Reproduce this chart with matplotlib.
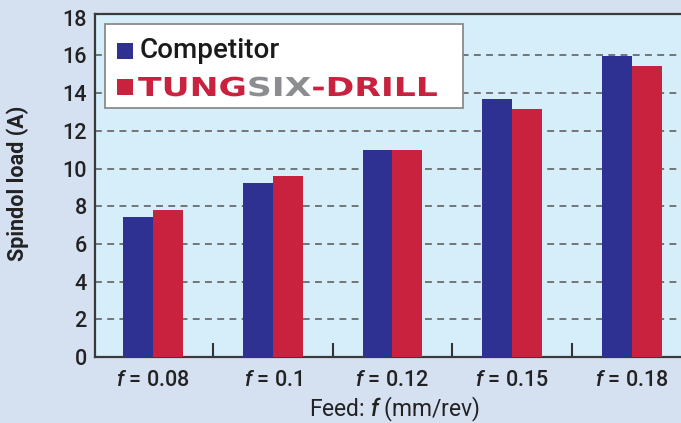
import matplotlib
matplotlib.use("Agg")
import matplotlib.pyplot as plt
import matplotlib.transforms as mtransforms
from matplotlib.patches import Rectangle, PathPatch
from matplotlib.textpath import TextPath, text_to_path
from matplotlib.font_manager import FontProperties
import numpy as np

# * Data
feeds = ["0.08", "0.1", "0.12", "0.15", "0.18"]
competitor = [7.45, 9.25, 11.0, 13.7, 15.95]
tungsix = [7.8, 9.6, 11.0, 13.15, 15.45]

# * Style
W, H = 681, 423
BLUE = "#2e3192"
RED = "#c8223f"
GRAY_LOGO = "#8b8d90"
FIG_BG = "#d5e0f1"
AX_BG = "#d6eefa"
INK = "#222222"

plt.rcParams["font.family"] = ["Roboto", "DejaVu Sans"]
plt.rcParams["font.weight"] = "medium"
plt.rcParams["mathtext.fontset"] = "custom"
plt.rcParams["mathtext.rm"] = "Roboto:medium"
plt.rcParams["mathtext.it"] = "Roboto:italic:medium"


def fx(px):
    return px / W


def fy(py):
    return 1 - py / H


fig = plt.figure(figsize=(W / 100, H / 100), dpi=100, facecolor=FIG_BG)
# axes box in pixels: left 95, right 681, top 14, bottom 357
ax = fig.add_axes([fx(95), fy(357), fx(681) - fx(95), fy(14) - fy(357)])
ax.set_facecolor(AX_BG)

x = np.arange(len(feeds))
bw = 0.25
ax.bar(x - bw / 2, competitor, bw, color=BLUE, zorder=3)
ax.bar(x + bw / 2, tungsix, bw, color=RED, zorder=3)

ax.set_xlim(-0.485, 4.41)
ax.set_ylim(0, 18.2)
ax.set_yticks(np.arange(0, 19, 2))
ax.set_xticks(x)
ax.set_xticklabels([f"$f$ = {v}" for v in feeds], fontsize=15.5)
ax.set_xticks(x[:-1] + 0.5, minor=True)
ax.tick_params(axis="x", which="major", length=0, pad=9, colors=INK)
ax.tick_params(axis="x", which="minor", direction="in", length=10, width=1.5,
               color="#333333")
ax.tick_params(axis="y", length=0, pad=6, labelsize=15.5, colors=INK)

for yv in range(2, 18, 2):
    ax.axhline(yv, color="#555555", lw=1.1, ls=(0, (4.5, 3.5)), zorder=1)

for s in ["left", "bottom", "top"]:
    ax.spines[s].set_color("#3a3a3a")
    ax.spines[s].set_linewidth(1.6)
ax.spines["right"].set_visible(False)

ax.set_ylabel("Spindol load (A)", fontsize=15.5, fontweight="bold", color=INK)
ax.yaxis.set_label_coords((29 - 95) / (681 - 95), (357 - 183) / (357 - 14))
ax.set_xlabel("Feed: $f$ (mm/rev)", fontsize=16.5, color=INK)
ax.xaxis.set_label_coords((395 - 95) / (681 - 95), (357 - 395) / (357 - 14))

# * Legend box (pixel layout)
fig.add_artist(Rectangle((fx(105), fy(108)), fx(463) - fx(105), fy(24) - fy(108),
                         transform=fig.transFigure, facecolor="white",
                         edgecolor="#8a8a8a", lw=1.3, zorder=5))
for top, col in [(43, BLUE), (79, RED)]:
    fig.add_artist(Rectangle((fx(117), fy(top + 16)), fx(16), 16 / H,
                             transform=fig.transFigure, facecolor=col,
                             edgecolor="none", zorder=6))
fig.text(fx(140), fy(58), "Competitor", fontsize=20, color="#1a1a1a",
         va="baseline", ha="left", zorder=6)

# stretched logo text
fp = FontProperties(family="DejaVu Sans", weight="bold", size=100)
logo = [("TUNG", RED), ("SIX", GRAY_LOGO), ("-DRILL", RED)]
full = "".join(s for s, c in logo)
full_w = text_to_path.get_text_width_height_descent(full, fp, ismath=False)[0]
cap_h = TextPath((0, 0), "T", prop=fp).get_extents().height
sx = 297 / full_w
sy = 19 / cap_h
x0, base = 138, 96
prefix = ""
for seg, col in logo:
    off = text_to_path.get_text_width_height_descent(prefix, fp, ismath=False)[0] if prefix else 0
    tp = TextPath((0, 0), seg, prop=fp)
    tr = (mtransforms.Affine2D().scale(sx, sy)
          .translate(x0 + off * sx, H - base).scale(1 / W, 1 / H))
    fig.add_artist(PathPatch(tr.transform_path(tp), transform=fig.transFigure,
                             facecolor=col, edgecolor="none", zorder=6))
    prefix += seg

fig.savefig("out.png", dpi=100, facecolor=FIG_BG)
